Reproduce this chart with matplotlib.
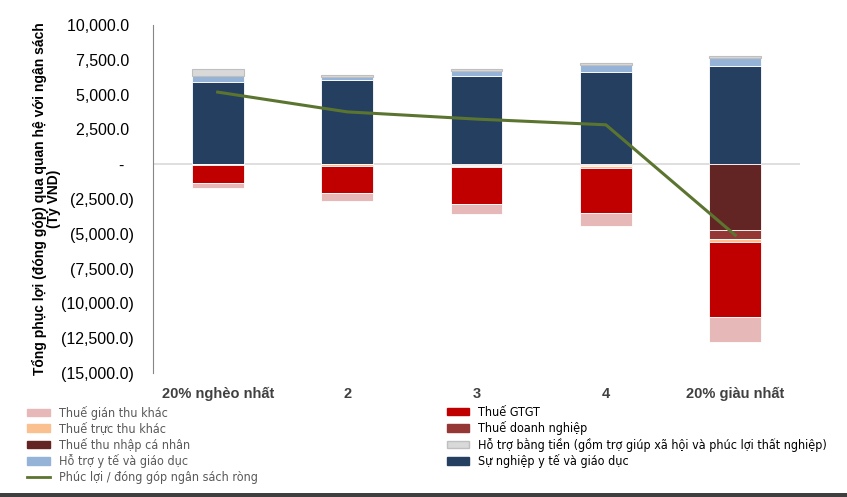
import numpy as np
import matplotlib.pyplot as plt
from matplotlib.patches import Patch, Rectangle
from matplotlib.lines import Line2D
from matplotlib import font_manager

plt.rcParams['font.family'] = ['Liberation Sans', 'DejaVu Sans']

categories = ['20% nghèo nhất', '2', '3', '4', '20% giàu nhất']

# phần dương (phúc lợi nhận được)
su_nghiep = np.array([5940, 6060, 6370, 6590, 7020])
ho_tro_yte = np.array([430, 195, 340, 570, 645])
ho_tro_tien = np.array([480, 165, 140, 120, 125])

# phần âm (đóng góp thuế)
thue_tncn = np.array([0, 0, 50, 60, 4700])
thue_dn = np.array([0, 0, 60, 80, 700])
thue_truc_thu = np.array([40, 100, 80, 110, 215])
thue_gtgt = np.array([1300, 1940, 2640, 3280, 5370])
thue_gian_thu = np.array([380, 620, 770, 890, 1800])

rong = np.array([5180, 3760, 3240, 2830, -5100])

yticks = [10000, 7500, 5000, 2500, 0, -2500, -5000, -7500, -10000, -12500, -15000]

c_navy = '#243F60'
c_lblue = '#95B3D7'
c_grey = '#D9D9D9'
c_maroon = '#632523'
c_brown = '#953735'
c_orange = '#FAC090'
c_red = '#C00000'
c_pink = '#E6B9B8'
c_line = '#5B7530'

fig = plt.figure(figsize=(8.47, 4.97), dpi=100)
ax = fig.add_axes([0.1806, 0.2495, 0.7639, 0.7002])

x = np.arange(len(categories))
w = 0.40
ek = dict(edgecolor='white', linewidth=0.6, zorder=2)

ax.bar(x, su_nghiep, w, color=c_navy, **ek)
ax.bar(x, ho_tro_yte, w, bottom=su_nghiep, color=c_lblue, **ek)
ax.bar(x, ho_tro_tien, w, bottom=su_nghiep + ho_tro_yte, color=c_grey,
       edgecolor='#BFBFBF', linewidth=0.8, zorder=2)

b = np.zeros(len(x))
for vals, col in [(thue_tncn, c_maroon), (thue_dn, c_brown), (thue_truc_thu, c_orange),
                  (thue_gtgt, c_red), (thue_gian_thu, c_pink)]:
    ax.bar(x, -vals, w, bottom=b, color=col, **ek)
    b = b - vals

ax.axhline(0, color='#D9D9D9', lw=1.2, zorder=1)
ax.plot(x, rong, color=c_line, lw=2.2, zorder=3)

ax.set_xlim(-0.5, 4.5)
ax.set_ylim(-15000, 10000)


def fmt(v):
    if v == 0:
        return '-  '
    if v < 0:
        return '({:,.1f})'.format(-v)
    return '{:,.1f} '.format(v)


ax.set_yticks(yticks)
ax.set_yticklabels([fmt(v) for v in yticks], fontsize=11.5)
ax.tick_params(axis='y', length=0, pad=14)
ax.set_xticks(x)
ax.set_xticklabels(categories, fontsize=10.5, fontweight='bold', color='#404040')
ax.tick_params(axis='x', length=0, pad=10)

for s in ['top', 'right', 'bottom']:
    ax.spines[s].set_visible(False)
ax.spines['left'].set_color('#868686')

ax.set_ylabel('Tổng phục lợi (đóng góp) qua quan hệ với ngân sách\n(Tỷ VND)',
              fontsize=10, fontweight='bold', labelpad=0, linespacing=0.95)

lfont = font_manager.FontProperties(family=['DejaVu Sans'], stretch='condensed', size=9)
h1 = [Patch(color=c_pink), Patch(color=c_orange), Patch(color=c_maroon), Patch(color=c_lblue),
      Line2D([], [], color=c_line, lw=2)]
l1 = ['Thuế gián thu khác', 'Thuế trực thu khác', 'Thuế thu nhập cá nhân',
      'Hỗ trợ y tế và giáo dục', 'Phúc lợi / đóng góp ngân sách ròng']
h2 = [Patch(color=c_red), Patch(color=c_brown), Patch(facecolor=c_grey, edgecolor='#BFBFBF'),
      Patch(color=c_navy)]
l2 = ['Thuế GTGT', 'Thuế doanh nghiệp',
      'Hỗ trợ bằng tiền (gồm trợ giúp xã hội và phúc lợi thất nghiệp)',
      'Sự nghiệp y tế và giáo dục']
kw = dict(frameon=False, loc='upper left', handlelength=1.8, handleheight=0.55,
          handletextpad=0.7, labelspacing=0.2, borderaxespad=0, borderpad=0.3,
          prop=lfont)
leg1 = fig.legend(h1, l1, bbox_to_anchor=(0.028, 0.191), labelcolor='#595959', **kw)
leg2 = fig.legend(h2, l2, bbox_to_anchor=(0.523, 0.191), labelcolor='black', **kw)

fig.add_artist(Rectangle((0, 0), 1, 4 / 497, transform=fig.transFigure,
                         color='#3F3F3F', lw=0))

fig.savefig('out.png', dpi=100)
